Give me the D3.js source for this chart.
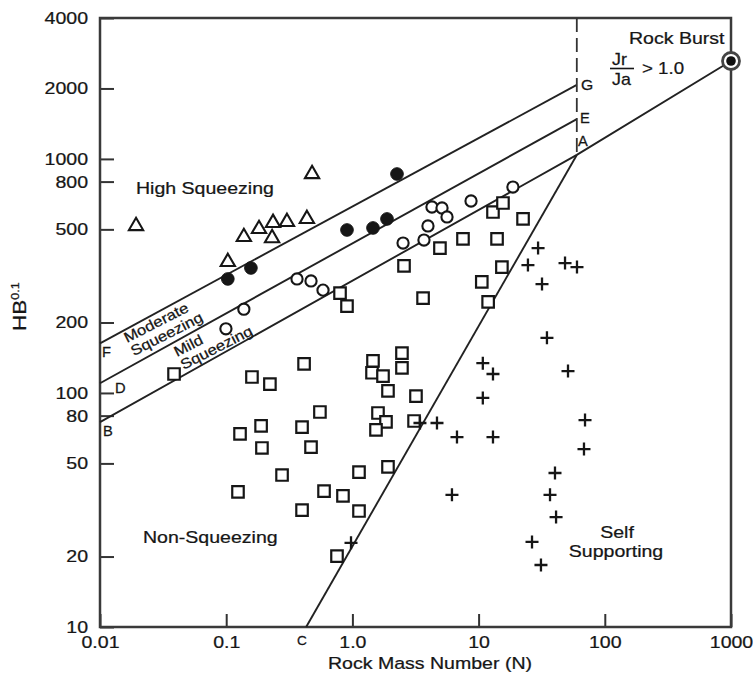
<!DOCTYPE html>
<html><head><meta charset="utf-8">
<script src="https://cdn.jsdelivr.net/npm/d3@7"></script>
<style>
body{margin:0;background:#fff}
svg{display:block}
text{font-family:"Liberation Sans",Arial,Helvetica,sans-serif;fill:#161616;stroke:#161616;stroke-width:0.25px}
</style>
</head><body><svg id="c" width="753" height="675"></svg>
<script>
// ---------- data ----------
const xTicks = [0.01, 0.1, 1, 10, 100, 1000];
const xTickLabels = ["0.01", "0.1", "1.0", "10", "100", "1000"];
const yTicks = [10, 20, 50, 80, 100, 200, 500, 800, 1000, 2000, 4000];
const yTickLabels = ["10", "20", "50", "80", "100", "200", "500", "800", "1000", "2000", "4000"];

// [N, HB^0.1]
const triangles = [[0.0193,517],[0.103,363],[0.138,464],[0.182,502],[0.235,533],[0.231,459],[0.303,538],[0.436,554],[0.479,862]];
const filledCircles = [[0.103,307],[0.157,342],[0.906,497],[1.456,507],[1.88,554],[2.256,862]];
const openCircles = [[0.0995,188],[0.138,228],[0.364,307],[0.47,301],[0.585,275],[2.52,437],[3.69,450],[3.97,517],[4.27,623],[5.13,617],[5.62,565],[8.71,661],[18.7,758]];
const squares = [[0.0386,120.5],[0.160,117],[0.222,109],[0.414,133],[0.553,82.9],[0.189,72.3],[0.1287,66.8],[0.192,58.2],[0.399,71.5],[0.47,58.7],[0.277,44.6],[0.124,37.8],[0.596,38.1],[0.842,36.3],[0.399,31.6],[1.128,45.9],[1.128,31.3],[0.755,20.1],[0.798,267],[0.906,235],[2.564,349],[3.63,254],[4.94,416],[7.52,455],[14.0,455],[13.0,593],[15.6,648],[22.5,554],[15.3,345],[10.6,298],[11.9,245],[1.456,137],[2.47,148],[2.47,128],[1.43,122],[1.748,118],[1.914,102],[3.19,97],[1.595,82.1],[1.846,75.2],[1.538,69.5],[3.08,75.9],[1.914,48.3]];
const pluses = [[29.6,416],[24.6,352],[48.4,359],[60.2,345],[31.8,292],[34.8,172],[10.8,134],[13.0,120.5],[51.1,124],[10.8,95.2],[69.7,76.6],[13.0,64.8],[68.4,57.6],[40.3,45.5],[36.8,36.7],[41.1,29.5],[26.5,23.1],[31.2,18.4],[3.43,74.4],[4.68,74.4],[6.74,64.8],[6.15,36.7],[0.975,22.9]];
const rockBurst = [[1000,2620]];

// boundary lines
const lineFG = [[0.01,163],[60,2070]];
const lineDE = [[0.01,110],[60,1480]];
const lineBA = [[0.01,75],[60,1040],[1000,2620]];
const lineCA = [[0.43,10],[60,1040]];
const lineDashed = [[60,4000],[60,1040]];

// ---------- chart ----------
const svg = d3.select("#c");
const X0 = 100, X1 = 731, Y0 = 627, Y1 = 18;
const x = d3.scaleLog().domain([0.01,1000]).range([X0,X1]);
const y = d3.scaleLog().domain([10,4000]).range([Y0,Y1]);
const SX = 1.15;
const ink = "#161616";

function label(str, px, py, size, anchor, rot, sx){
  const g = svg.append("g").attr("transform",`translate(${px},${py}) rotate(${rot||0}) scale(${sx||SX},1)`);
  return g.append("text").attr("text-anchor",anchor||"start").style("font-size",size+"px").text(str);
}

// axes
const gx = svg.append("g").attr("transform",`translate(0,${Y0})`)
  .call(d3.axisBottom(x).tickValues(xTicks).tickFormat((d,i)=>xTickLabels[i]).tickSizeInner(-13).tickSizeOuter(0).tickPadding(9));
gx.select(".domain").remove();
gx.selectAll(".tick line").attr("stroke","#333").attr("stroke-width",2);
gx.selectAll(".tick text").style("font-size","17px").attr("fill",ink).attr("transform",`scale(${SX},1)`);

const gy = svg.append("g").attr("transform",`translate(${X0},0)`)
  .call(d3.axisLeft(y).tickValues(yTicks).tickFormat((d,i)=>yTickLabels[i]).tickSizeInner(-14).tickSizeOuter(0).tickPadding(12/SX));
gy.select(".domain").remove();
gy.selectAll(".tick line").attr("stroke","#333").attr("stroke-width",2);
gy.selectAll(".tick text").style("font-size","17px").attr("fill",ink).attr("transform",`scale(${SX},1)`);

// frame
svg.append("rect").attr("x",X0).attr("y",Y1).attr("width",X1-X0).attr("height",Y0-Y1)
  .attr("fill","none").attr("stroke","#3a3a3a").attr("stroke-width",2.5);

// lines
const line = d3.line().x(d=>x(d[0])).y(d=>y(d[1]));
[lineFG,lineDE,lineBA,lineCA].forEach(L=>{
  svg.append("path").attr("d",line(L)).attr("fill","none").attr("stroke","#222").attr("stroke-width",1.9);
});
svg.append("path").attr("d",line(lineDashed)).attr("fill","none").attr("stroke","#333").attr("stroke-width",1.8).attr("stroke-dasharray","14,6");

// markers
const plusSym = {draw(ctx,size){const r=Math.sqrt(size)/2;ctx.moveTo(-r,0);ctx.lineTo(r,0);ctx.moveTo(0,-r);ctx.lineTo(0,r);}};
function pts(data, type, size, fill, sw){
  svg.append("g").selectAll("path").data(data).join("path")
    .attr("transform",d=>`translate(${x(d[0])},${y(d[1])})`)
    .attr("d",d3.symbol().type(type).size(size)())
    .attr("fill",fill).attr("stroke",ink).attr("stroke-width",sw);
}
pts(squares, d3.symbolSquare, 132, "#fff", 2.2);
pts(openCircles, d3.symbolCircle, Math.PI*5.6*5.6, "#fff", 2.1);
pts(filledCircles, d3.symbolCircle, Math.PI*6.3*6.3, ink, 1);
pts(triangles, d3.symbolTriangle, 88, "#fff", 2.1);
pts(pluses, plusSym, 169, "none", 2.3);

// rock burst marker
const rb = svg.append("g").selectAll("g").data(rockBurst).join("g")
  .attr("transform",d=>`translate(${x(d[0])},${y(d[1])})`);
rb.append("circle").attr("r",8.5).attr("fill","#fff").attr("stroke","#444").attr("stroke-width",2.8);
rb.append("circle").attr("r",4.8).attr("fill","#111");

// letters
label("G",581,90,15,"start",0,1.05);
label("E",580,123,14,"start",0,1.05);
label("A",578,146,14,"start",0,1.05);
label("F",102,357,14,"start",0,1.05);
label("D",115,393,14,"start",0,1.05);
label("B",103,436,14,"start",0,1.05);
label("C",302,645,13,"middle",0,1.05);

// region labels
label("High Squeezing",136,194,17,"start");
label("Non-Squeezing",143,543,17,"start");
label("Rock Burst",629,44,17,"start");
label("Self",617,538,17,"middle");
label("Supporting",616,557,17,"middle");

// rotated zone labels
label("Moderate",127,343,14.5,"start",-27);
label("Squeezing",127,343,14.5,"start",-27).attr("y",15);
label("Mild",177,357,14.5,"start",-27);
label("Squeezing",177,357,14.5,"start",-27).attr("y",14.5);

// Jr/Ja > 1.0
label("Jr",612,65,17,"start",0,1.05);
label("Ja",612,85,17,"start",0,1.05);
svg.append("line").attr("x1",610).attr("x2",634).attr("y1",68.5).attr("y2",68.5).attr("stroke",ink).attr("stroke-width",1.6);
label("> 1.0",642,74,17,"start",0,1.1);

// axis titles
label("Rock Mass Number (N)",430,669,17,"middle");
const hb = label("HB",26,331,18,"start",-90,1.25);
hb.append("tspan").attr("dy",-7.5).style("font-size","10px").text("0.1");
</script></body></html>
